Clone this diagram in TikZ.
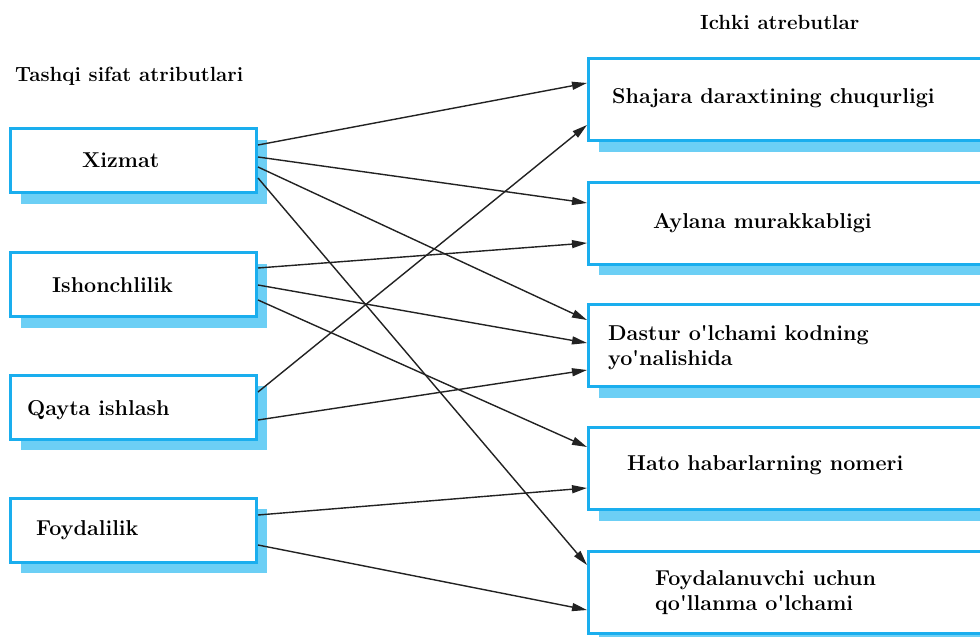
\documentclass[tikz,border=0pt]{standalone}
\usetikzlibrary{arrows.meta,calc,shadows}
\definecolor{boxline}{HTML}{1AAEEE}
\definecolor{boxshade}{HTML}{6CCFF5}
\definecolor{arrowc}{HTML}{222222}
\newcommand{\apo}{\textquotesingle}
\tikzset{
  attrbox/.style={draw=boxline, line width=3pt, fill=white, rectangle,
    drop shadow={shadow xshift=10pt, shadow yshift=-11pt, fill=boxshade, opacity=1}},
  leftbox/.style={attrbox, minimum width=246pt, minimum height=64pt},
  rightbox/.style={attrbox, minimum width=410pt, minimum height=82pt},
  lbl/.style={anchor=west, inner sep=0pt, font=\fontsize{21.5}{25}\selectfont\bfseries, align=left},
  ttl/.style={anchor=west, inner sep=0pt, font=\fontsize{20.5}{24}\selectfont\bfseries},
  link/.style={draw=arrowc, line width=1.4pt, -{Triangle[length=15pt,width=8pt]}}
}
\begin{document}
\begin{tikzpicture}[x=1pt,y=-1pt]
\useasboundingbox (0,0) rectangle (980,637);
\clip (0,0) rectangle (980,637);
\fill[white] (0,0) rectangle (980,637);

% titles
\node[ttl] (tl) at (15,76) {Tashqi sifat atributlari};
\node[ttl] (tr) at (700,22) {Ichki atrebutlar};

% left boxes
\node[leftbox] (xiz) at (133.5,160.5) {};
\node[leftbox] (ish) at (133.5,284.5) {};
\node[leftbox] (qay) at (133.5,407) {};
\node[leftbox] (foy) at (133.5,530) {};

% right boxes
\node[rightbox] (sha) at (793.5,99.5) {};
\node[rightbox] (ayl) at (793.5,223) {};
\node[rightbox] (das) at (793.5,345.5) {};
\node[rightbox] (hat) at (793.5,468.5) {};
\node[rightbox] (fyd) at (793.5,592) {};

% labels
\node[lbl] (lxiz) at (82,160) {Xizmat};
\node[lbl] (lish) at (52,285) {Ishonchlilik};
\node[lbl] (lqay) at (27,410) {Qayta ishlash};
\node[lbl] (lfoy) at (36,530) {Foydalilik};
\node[lbl] (lsha) at (612,98) {Shajara daraxtining chuqurligi};
\node[lbl] (layl) at (653,223) {Aylana murakkabligi};
\node[lbl] (ldas) at (608,347.5) {Dastur o\apo lchami kodning\\yo\apo nalishida};
\node[lbl] (lhat) at (627,465) {Hato habarlarning nomeri};
\node[lbl] (lfyd) at (655,592.5) {Foydalanuvchi uchun\\qo\apo llanma o\apo lchami};

% connectors
\draw[link] ($(xiz.east)+(0,-15.5)$) -- ($(sha.west)+(0,-16.5)$);
\draw[link] ($(xiz.east)+(0,-3.5)$) -- ($(ayl.west)+(0,-20)$);
\draw[link] ($(xiz.east)+(0,6.5)$) -- ($(das.west)+(0,-25.5)$);
\draw[link] ($(xiz.east)+(0,17.5)$) -- ($(fyd.west)+(0,-27)$);
\draw[link] ($(ish.east)+(0,-16.5)$) -- ($(ayl.west)+(0,20)$);
\draw[link] ($(ish.east)+(0,0.5)$) -- ($(das.west)+(0,-2.5)$);
\draw[link] ($(ish.east)+(0,15.5)$) -- ($(hat.west)+(0,-21.5)$);
\draw[link] ($(qay.east)+(0,-15)$) -- ($(sha.west)+(0,25.5)$);
\draw[link] ($(qay.east)+(0,13)$) -- ($(das.west)+(0,24.5)$);
\draw[link] ($(foy.east)+(0,-15)$) -- ($(hat.west)+(0,19.5)$);
\draw[link] ($(foy.east)+(0,15)$) -- ($(fyd.west)+(0,18)$);
\end{tikzpicture}
\end{document}
